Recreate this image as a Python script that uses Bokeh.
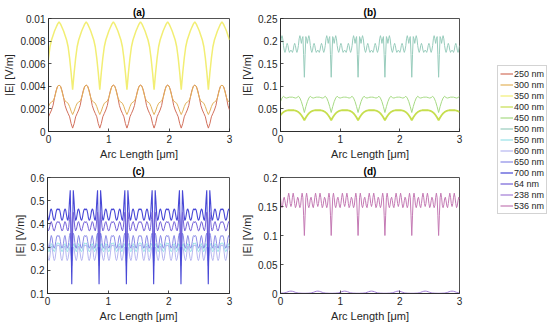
import numpy as np
from bokeh.plotting import figure
from bokeh.models import Range1d, FixedTicker, CustomJSTickFormatter, Legend, LegendItem
from bokeh.layouts import row, column
from bokeh.embed import file_html
from bokeh.resources import INLINE

# ---------------- data (one period of each curve) ----------------
PERIOD = 0.45          # spacing of the dips [um]
FIRST_DIP = 0.4        # position of the first dip [um]

XTICKS = [0, 1, 2, 3]
YTICKS_A = [0, 0.002, 0.004, 0.006, 0.008, 0.01]
YTICKS_B = [0, 0.05, 0.1, 0.15, 0.2, 0.25]
YTICKS_C = [0.1, 0.2, 0.3, 0.4, 0.5, 0.6]
YTICKS_D = [0, 0.05, 0.1, 0.15, 0.2]

# panel (a)
P250 = [0.0003, 0.0007, 0.0013, 0.0016, 0.0019, 0.0023, 0.0030, 0.0036, 0.0040,
        0.0041, 0.0040, 0.0036, 0.0030, 0.0023, 0.0019, 0.0016, 0.0013, 0.0007]
P300 = [0.0015, 0.0018, 0.0022, 0.0025, 0.0026, 0.0027, 0.0030, 0.0035, 0.0040,
        0.0041, 0.0040, 0.0035, 0.0030, 0.0027, 0.0026, 0.0025, 0.0022, 0.0018]
P350 = [0.0037, 0.0052, 0.0065, 0.0075, 0.0081, 0.0085, 0.0089, 0.0092, 0.0095,
        0.0097, 0.0095, 0.0092, 0.0089, 0.0085, 0.0081, 0.0075, 0.0065, 0.0052]
# panel (b)
P400 = [0.025, 0.031, 0.036, 0.040, 0.043, 0.045, 0.046, 0.047, 0.047,
        0.047, 0.047, 0.047, 0.046, 0.045, 0.043, 0.040, 0.036, 0.031]
P450 = [0.042, 0.055, 0.066, 0.074, 0.078, 0.075, 0.074, 0.075, 0.076,
        0.076, 0.076, 0.075, 0.074, 0.075, 0.078, 0.074, 0.066, 0.055]
P500 = [0.12, 0.17, 0.21, 0.205, 0.195, 0.205, 0.212, 0.205, 0.19, 0.18, 0.175, 0.18,
        0.19, 0.195, 0.19, 0.18, 0.175, 0.178, 0.18, 0.178, 0.175, 0.18, 0.19, 0.195,
        0.19, 0.18, 0.175, 0.18, 0.19, 0.205, 0.212, 0.205, 0.195, 0.205, 0.21, 0.17]
# panel (c)
P550 = [0.27, 0.29, 0.31, 0.315, 0.30, 0.285, 0.28, 0.29, 0.305, 0.315, 0.31, 0.295,
        0.283, 0.28, 0.288, 0.30, 0.312, 0.318, 0.315, 0.318, 0.312, 0.30, 0.288, 0.28,
        0.283, 0.295, 0.31, 0.315, 0.305, 0.29, 0.28, 0.285, 0.30, 0.315, 0.31, 0.29]
P600 = [0.22, 0.26, 0.30, 0.295, 0.27, 0.25, 0.242, 0.255, 0.285, 0.305, 0.30, 0.275,
        0.252, 0.242, 0.25, 0.275, 0.30, 0.31, 0.305, 0.31, 0.30, 0.275, 0.25, 0.242,
        0.252, 0.275, 0.30, 0.305, 0.285, 0.255, 0.242, 0.25, 0.27, 0.295, 0.30, 0.26]
P650 = [0.24, 0.30, 0.36, 0.35, 0.32, 0.30, 0.295, 0.31, 0.335, 0.35, 0.34, 0.315,
        0.30, 0.295, 0.305, 0.325, 0.345, 0.35, 0.345, 0.35, 0.345, 0.325, 0.305, 0.295,
        0.30, 0.315, 0.34, 0.35, 0.335, 0.31, 0.295, 0.30, 0.32, 0.35, 0.36, 0.30]
P700 = [0.14, 0.35, 0.545, 0.50, 0.44, 0.415, 0.42, 0.44, 0.46, 0.465, 0.455, 0.435,
        0.42, 0.415, 0.425, 0.445, 0.46, 0.465, 0.46, 0.465, 0.46, 0.445, 0.425, 0.415,
        0.42, 0.435, 0.455, 0.465, 0.46, 0.44, 0.42, 0.415, 0.44, 0.50, 0.545, 0.35]
P64 = [0.30, 0.40, 0.45, 0.42, 0.385, 0.37, 0.375, 0.39, 0.405, 0.41, 0.40, 0.385,
       0.372, 0.37, 0.38, 0.395, 0.405, 0.41, 0.405, 0.41, 0.405, 0.395, 0.38, 0.37,
       0.372, 0.385, 0.40, 0.41, 0.405, 0.39, 0.375, 0.37, 0.385, 0.42, 0.45, 0.40]
# panel (d)
P238 = [0.0004, 0.0004, 0.0005, 0.0006, 0.0008, 0.0012, 0.0020, 0.0030, 0.0038,
        0.0041, 0.0038, 0.0030, 0.0020, 0.0012, 0.0008, 0.0006, 0.0005, 0.0004]
P536 = [0.10, 0.135, 0.165, 0.173, 0.165, 0.152, 0.148, 0.153, 0.163, 0.166, 0.16, 0.151,
        0.148, 0.155, 0.166, 0.173, 0.166, 0.155, 0.15, 0.155, 0.166, 0.173, 0.166, 0.155,
        0.148, 0.151, 0.16, 0.166, 0.163, 0.153, 0.148, 0.152, 0.165, 0.173, 0.165, 0.135]

SERIES = [
    # label, profile, colour, width, panel
    ("250 nm", P250, "#d2705c", 1.0, "a"),
    ("300 nm", P300, "#e2b25a", 1.0, "a"),
    ("350 nm", P350, "#f2ee74", 1.5, "a"),
    ("400 nm", P400, "#c6de4e", 1.8, "b"),
    ("450 nm", P450, "#a6da84", 1.0, "b"),
    ("500 nm", P500, "#98ccbc", 1.0, "b"),
    ("550 nm", P550, "#96e2e8", 1.0, "c"),
    ("600 nm", P600, "#b6b6f0", 1.0, "c"),
    ("650 nm", P650, "#8a8ae6", 1.0, "c"),
    ("700 nm", P700, "#4848d6", 1.1, "c"),
    ("64 nm", P64, "#7462d8", 1.0, "c"),
    ("238 nm", P238, "#a27cd6", 1.0, "d"),
    ("536 nm", P536, "#c47ab4", 1.0, "d"),
]

FONT = "Liberation Sans"
TXT = "#262626"


def periodic(profile):
    n = len(profile)
    step = PERIOD / n
    start = FIRST_DIP - 2 * PERIOD
    count = int(round((3.0 - start) / step)) + 1
    idx = np.arange(count)
    return start + step * idx, np.asarray(profile)[idx % n]


fmt = CustomJSTickFormatter(code="return tick.toString()")


def panel(title, yr, yticks, w, h, bl, br, bt, bb):
    p = figure(width=w, height=h, x_range=Range1d(0, 3), y_range=Range1d(*yr),
               toolbar_location=None, output_backend="svg",
               min_border_left=bl, min_border_right=br, min_border_top=bt, min_border_bottom=bb)
    p.title.text = title
    p.title.align = "center"
    p.title.text_font = FONT
    p.title.text_font_style = "bold"
    p.title.text_font_size = "10px"
    p.title.text_color = "#000000"
    p.title.standoff = 1
    p.grid.visible = False
    p.outline_line_color = TXT
    p.outline_line_width = 0.8
    p.background_fill_color = "white"
    p.border_fill_color = "white"
    for ax, ticks, lab in ((p.xaxis[0], XTICKS, "Arc Length [\u03bcm]"), (p.yaxis[0], yticks, "|E| [V/m]")):
        ax.ticker = FixedTicker(ticks=ticks)
        ax.formatter = fmt
        ax.axis_label = lab
        ax.axis_label_text_font = FONT
        ax.axis_label_text_font_style = "normal"
        ax.axis_label_text_font_size = "11px"
        ax.axis_label_text_color = TXT
        ax.axis_label_standoff = 2
        ax.major_label_text_font = FONT
        ax.major_label_text_font_size = "10px"
        ax.major_label_text_color = TXT
        ax.major_label_standoff = 3
        ax.major_tick_in = 3
        ax.major_tick_out = 0
        ax.minor_tick_line_color = None
        ax.axis_line_color = TXT
        ax.axis_line_width = 0.8
        ax.major_tick_line_color = TXT
        ax.major_tick_line_width = 0.8
    return p


pa = panel("(a)", (0, 0.01), YTICKS_A, 238, 162, 47, 9, 18, 29)
pb = panel("(b)", (0, 0.25), YTICKS_B, 231, 162, 38, 10, 18, 29)
pc = panel("(c)", (0.1, 0.6), YTICKS_C, 238, 165, 47, 9, 15, 34)
pd = panel("(d)", (0, 0.2), YTICKS_D, 231, 165, 38, 10, 15, 34)
panels = {"a": pa, "b": pb, "c": pc, "d": pd}

pleg = figure(width=81, height=327, x_range=Range1d(0, 1), y_range=Range1d(0, 1),
              toolbar_location=None, output_backend="svg", min_border=0)
pleg.axis.visible = False
pleg.grid.visible = False
pleg.outline_line_color = None

items = []
for label, prof, col, lw, key in SERIES:
    x, y = periodic(prof)
    panels[key].line(x, y, line_color=col, line_width=lw)
    # legend-only renderer: a single undefined point, so only its swatch is drawn
    r = pleg.line(x=[np.nan], y=[np.nan], line_color=col, line_width=1.2)
    items.append(LegendItem(label=label, renderers=[r]))

leg = Legend(items=items, location=(28, 113))
leg.label_text_font = FONT
leg.label_text_font_size = "9px"
leg.label_text_color = TXT
leg.label_height = 11
leg.glyph_height = 11
leg.glyph_width = 13
leg.label_standoff = 1
leg.spacing = 0
leg.padding = 2
leg.margin = 0
leg.border_line_color = "#a8a8a8"
leg.border_line_width = 1
leg.background_fill_color = "white"
pleg.add_layout(leg)

layout = row(column(row(pa, pb), row(pc, pd)), pleg)

open("out.html", "w").write(file_html(layout, INLINE))
